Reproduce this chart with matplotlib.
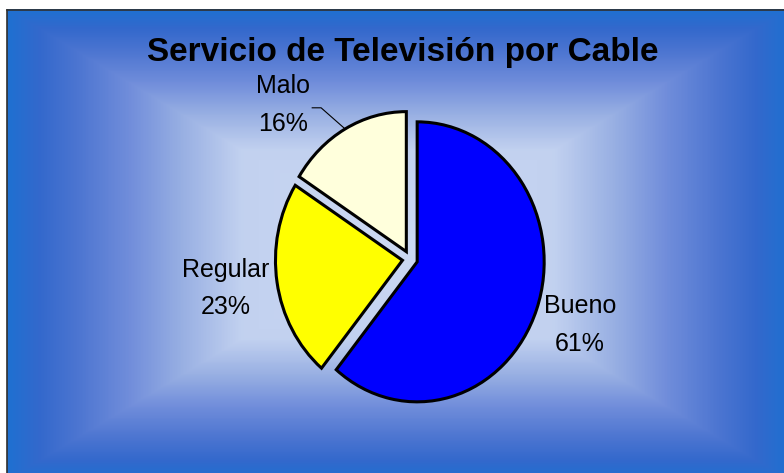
import numpy as np
import matplotlib
matplotlib.use('Agg')
import matplotlib.pyplot as plt
from matplotlib.colors import LinearSegmentedColormap

plt.rcParams['font.family'] = ['Liberation Sans', 'DejaVu Sans']

# =======================================================
# Data
categorias = ['Bueno', 'Regular', 'Malo']
porcentajes = [61, 23, 16]
colores = ['#0000ff', '#ffff00', '#ffffdc']
titulo = 'Servicio de Televisión por Cable'

# label centres relative to the pie (data units of the pie axes)
label_pos = [(1.34, -0.47), (-1.45, -0.21), (-1.0, 1.10)]

W, H = 784, 473
fig = plt.figure(figsize=(W / 100, H / 100), dpi=100)
fig.patch.set_facecolor('white')

# =======================================================
# Background: rectangular gradient, darker at the edges
bg = fig.add_axes([0, 0, 1, 1])
bg.set_xlim(0, W)
bg.set_ylim(H, 0)
bg.axis('off')
x0, y0 = 7, 10
cx, cy, hw, hh = 398, 245, 391, 235
xx, yy = np.meshgrid(np.arange(W) + 0.5, np.arange(H) + 0.5)
t = np.maximum(np.abs(xx - cx) / hw, np.abs(yy - cy) / hh).clip(0, 1)
cmap = LinearSegmentedColormap.from_list('box', [
    (0.00, (0.80, 0.85, 0.95)),
    (0.40, (0.76, 0.82, 0.94)),
    (0.55, (0.60, 0.69, 0.89)),
    (0.68, (0.45, 0.56, 0.86)),
    (0.82, (0.30, 0.46, 0.82)),
    (0.92, (0.20, 0.41, 0.80)),
    (1.00, (0.12, 0.44, 0.82)),
])
img = cmap(t)[:, :, :3]
img[:y0, :] = 1.0
img[:, :x0] = 1.0
bg.imshow(img, extent=(0, W, H, 0), interpolation='nearest', aspect='auto')
bg.plot([x0, x0], [H, y0], color='#303030', lw=1.2)
bg.plot([x0, W], [y0, y0], color='#303030', lw=1.2)

bg.text(403, 52, titulo, fontsize=24, fontweight='bold', ha='center', va='center')

# =======================================================
# Pie (stretched slightly vertically like the original)
rx, ry = 127, 140
pcx, pcy = 410, H - 259
lim = 1.3
ax = fig.add_axes([(pcx - lim * rx) / W, (pcy - lim * ry) / H,
                   2 * lim * rx / W, 2 * lim * ry / H])
explode = [0.06, 0.06, 0.06]
wedges, _ = ax.pie(porcentajes, colors=colores, startangle=90, counterclock=False,
                   explode=explode, wedgeprops=dict(edgecolor='black', linewidth=2.2))
ax.set_aspect('auto')
ax.set_xlim(-lim, lim)
ax.set_ylim(-lim, lim)
ax.axis('off')

for w, cat, val, (lx, ly) in zip(wedges, categorias, porcentajes, label_pos):
    ax.text(lx, ly, '%s\n%d%%' % (cat, val), fontsize=18, ha='center', va='center',
            linespacing=1.72)

# leader line for "Malo"
w = wedges[2]
ang = np.deg2rad((w.theta1 + w.theta2) / 2)
ex, ey = w.center
px, py = ex + np.cos(ang), ey + np.sin(ang)
ax.plot([-0.77, -0.70, px], [1.08, 1.08, py], color='black', lw=0.8, clip_on=False)

fig.savefig('out.png', dpi=100)
